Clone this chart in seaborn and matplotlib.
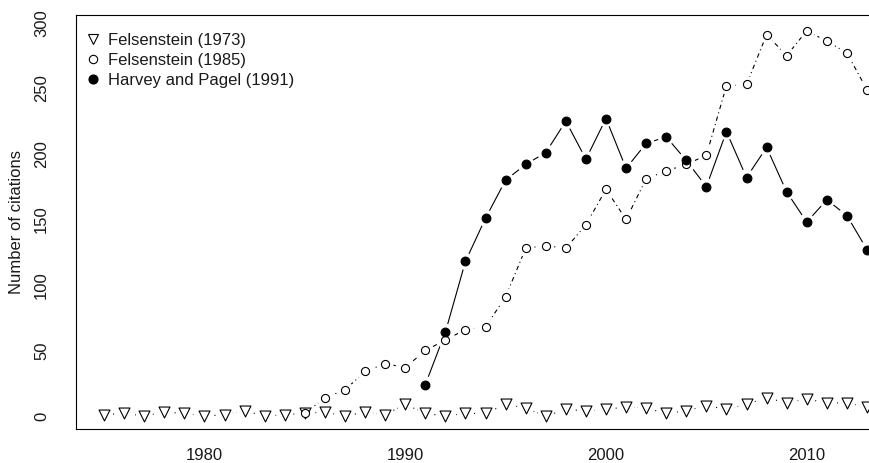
import numpy as np
import pandas as pd
import seaborn as sns
import matplotlib.pyplot as plt
from matplotlib.lines import Line2D

# Citation counts per year
years_1973 = list(range(1975, 2014))
fels_1973 = [1, 2, 0, 3, 2, 0, 1, 4, 0, 1, 2, 3, 0, 3, 1, 9, 2, 0, 2,
             2, 9, 6, 0, 5, 4, 5, 7, 6, 2, 4, 8, 5, 9, 14, 10, 13, 10, 10, 7]

years_1985 = list(range(1985, 2014))
fels_1985 = [2, 14, 20, 34, 40, 37, 50, 58, 66, 68, 91, 128, 130, 128, 146,
             173, 150, 181, 187, 192, 199, 252, 253, 291, 275, 294, 286, 277, 249]

years_1991 = list(range(1991, 2014))
harvey_1991 = [24, 64, 118, 151, 180, 192, 201, 225, 196, 227, 189, 208, 213,
               195, 175, 217, 182, 205, 171, 148, 165, 153, 127]

labels = ["Felsenstein (1973)", "Felsenstein (1985)", "Harvey and Pagel (1991)"]

sns.set_style("white")
plt.rcParams['font.family'] = ['Liberation Sans', 'DejaVu Sans']
plt.rcParams['font.size'] = 12
for k in ['text.color', 'axes.labelcolor', 'xtick.color', 'ytick.color']:
    plt.rcParams[k] = '#1a1a1a'

fig = plt.figure(figsize=(8.69, 4.63), dpi=100)
ax = fig.add_axes([76 / 869, 34 / 463, (874 - 76) / 869, 414 / 463])

series = [
    (years_1973, fels_1973, (0, (1, 3)), 'v', 'white', 62),
    (years_1985, fels_1985, (0, (1, 3, 4, 3)), 'o', 'white', 34),
    (years_1991, harvey_1991, '-', 'o', 'black', 40),
]

# lines, then white gaps around points (like R type="b"), then markers
for x, y, ls, mk, fc, s in series:
    df = pd.DataFrame({"year": x, "n": y})
    sns.lineplot(data=df, x="year", y="n", ax=ax, color='black', lw=0.8,
                 linestyle=ls, zorder=1)
for x, y, ls, mk, fc, s in series:
    df = pd.DataFrame({"year": x, "n": y})
    sns.scatterplot(data=df, x="year", y="n", ax=ax, marker='o', s=150,
                    color='white', edgecolor='none', linewidth=0, zorder=2)
for x, y, ls, mk, fc, s in series:
    df = pd.DataFrame({"year": x, "n": y})
    sns.scatterplot(data=df, x="year", y="n", ax=ax, marker=mk, s=s,
                    facecolor=fc, edgecolor='black', linewidth=0.8, zorder=3)

ax.set_xlim(1973.6, 2013.35)
ax.set_ylim(-9.9, 306)
ax.set_xticks([1980, 1990, 2000, 2010])
ax.set_yticks(np.arange(0, 301, 50))
ax.set_xlabel("")
ax.set_ylabel("Number of citations", fontsize=12, labelpad=7)
ax.tick_params(axis='both', direction='out', length=7.5, width=0.8,
               color='black', labelsize=12)
ax.tick_params(axis='x', pad=6)
ax.tick_params(axis='y', pad=12)
for lab in ax.get_yticklabels():
    lab.set_rotation(90)
    lab.set_va('center')
for sp in ax.spines.values():
    sp.set_color('black')
    sp.set_linewidth(0.8)

handles = [
    Line2D([], [], linestyle='none', marker='v', markersize=7.5,
           markerfacecolor='white', markeredgecolor='black', markeredgewidth=0.8),
    Line2D([], [], linestyle='none', marker='o', markersize=6,
           markerfacecolor='white', markeredgecolor='black', markeredgewidth=0.8),
    Line2D([], [], linestyle='none', marker='o', markersize=6.5,
           markerfacecolor='black', markeredgecolor='black', markeredgewidth=0.8),
]
ax.legend(handles, labels, loc='upper left', bbox_to_anchor=(-0.004, 0.985),
          frameon=False, fontsize=12, handlelength=1.0, handletextpad=0.4,
          labelspacing=0.3, borderaxespad=0.3)

fig.savefig("out.png", dpi=100)
